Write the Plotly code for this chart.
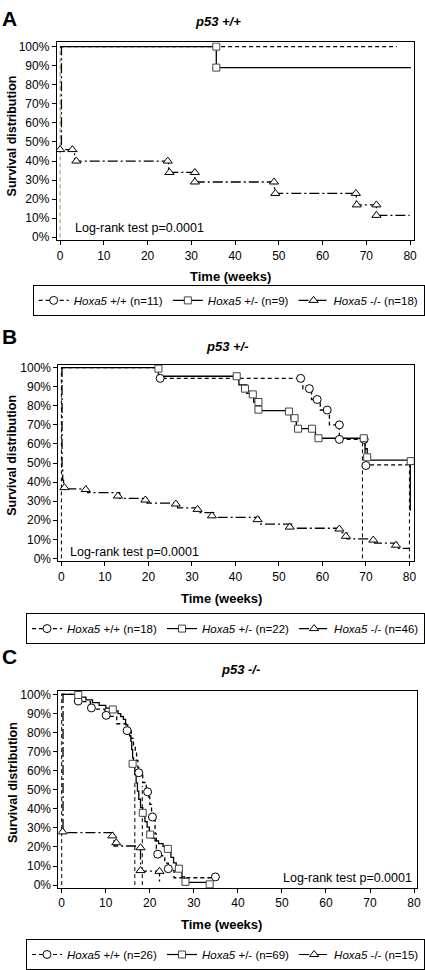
import plotly.graph_objects as go

FIG_W, FIG_H = 425, 970

# ---------------- data ----------------
X_TICKS = [0, 10, 20, 30, 40, 50, 60, 70, 80]
Y_TICKS = [0, 10, 20, 30, 40, 50, 60, 70, 80, 90, 100]
Y_TICK_LABELS = ["0%", "10%", "20%", "30%", "40%", "50%", "60%", "70%", "80%", "90%", "100%"]
GROUPS = ["+/+", "+/-", "-/-"]
PANEL_TITLES = ["p53 +/+", "p53 +/-", "p53 -/-"]
LOGRANK = "Log-rank test p=0.0001"

# Panel A  (p53 +/+)
A_N = [11, 9, 18]
A_WT_T = [0, 77.0]
A_WT_S = [100, 100]
A_WT_MK_T = []
A_WT_MK_S = []
A_HET_T = [0, 35.7, 80.2]
A_HET_S = [100, 89, 89]
A_HET_MK_T = [35.7, 35.7]
A_HET_MK_S = [100, 89]
A_KO_T = [0, 0.3, 3.3, 24.8, 30.8, 49.0, 67.7, 72.3, 79.9]
A_KO_S = [100, 46, 40, 34, 29, 23, 17, 11.5, 11.5]
A_KO_MK_T = [0, 2.8, 3.7, 24.6, 25.0, 30.8, 30.8, 48.9, 49.2, 67.6, 67.8, 72.3, 72.3]
A_KO_MK_S = [46, 46, 40, 40, 34, 34, 29, 29, 23, 23, 17, 17, 11.5]
A_MED_T = [0]
A_MED_TOP = [100]

# Panel B  (p53 +/-)
B_N = [18, 22, 46]
B_WT_T = [0, 22.6, 55.5, 57.5, 59.5, 61.6, 63.9, 69.8, 79.7]
B_WT_S = [100, 94.4, 88.9, 83.3, 77.8, 70, 62.4, 49, 49]
B_WT_MK_T = [22.7, 55.0, 57.0, 58.8, 61.1, 63.9, 63.9, 69.6, 70.0]
B_WT_MK_S = [94.4, 94.4, 89.0, 83.3, 77.8, 70.0, 62.4, 62.4, 48.7]
B_HET_T = [0, 22.3, 40.8, 42.6, 44.2, 45.3, 52.8, 54.0, 58.4, 69.8, 70.3, 80.2, 80.2]
B_HET_S = [100, 95.5, 91, 86.5, 82, 77.5, 73, 68, 63, 57.5, 51.5, 51.5, 25]
B_HET_MK_T = [22.3, 40.3, 42.2, 44.0, 45.3, 45.3, 52.3, 53.6, 54.4, 57.6, 59.1, 69.5, 70.3, 80.3]
B_HET_MK_S = [99.5, 95.5, 89, 86, 82, 78, 77, 73.5, 68, 68, 63, 63, 53, 51]
B_KO_T = [0, 0.15, 0.3, 0.5, 6.0, 13.4, 19.7, 26.7, 31.7, 35.0, 45.5, 52.9, 64.2, 65.6, 72.0, 77.2, 80.0]
B_KO_S = [100, 48, 41, 36.5, 34.5, 31.5, 29, 26.5, 24, 21.5, 18, 15.8, 13.5, 10.2, 8, 5.3, 5.3]
B_KO_MK_T = [0.7, 5.6, 13.0, 19.3, 26.3, 31.3, 34.6, 45.1, 52.5, 63.9, 65.4, 71.7, 76.9]
B_KO_MK_S = [37.1, 36.1, 32.7, 30.6, 28.5, 25.7, 22.3, 20.3, 16.4, 15.4, 11.6, 9.6, 6.9]
B_MED_T = [0, 69.2, 80.0]
B_MED_TOP = [100, 62, 50]

# Panel C  (p53 -/-)
C_N = [26, 69, 15]
C_WT_T = [0, 3.5, 6.5, 9.8, 12.5, 14.6, 15.8, 16.3, 16.7, 17.0, 17.3, 17.6, 18.4, 19.2, 19.6,
          20.0, 20.4, 20.8, 21.2, 21.5, 21.9, 23.4, 24.2, 25.5, 35.0]
C_WT_S = [100, 96.2, 92.3, 88.5, 84.6, 80.8, 76.9, 73.1, 69.2, 65.4, 61.5, 57.7, 53.8, 50.0, 46.2,
          42.3, 38.5, 34.6, 26.9, 19.2, 15.4, 11.5, 7.7, 3.85, 3.85]
C_WT_MK_T = [3.76, 6.75, 10.1, 14.85, 17.5, 19.5, 20.6, 21.8, 24.2, 34.9]
C_WT_MK_S = [96.5, 92.9, 89.0, 81.0, 58.9, 48.9, 35.7, 16.2, 8.6, 4.3]
C_HET_T = [0, 3.9, 5.5, 7.0, 8.5, 10.0, 12.0, 12.8, 13.4, 14.0, 14.5, 15.0, 15.4, 15.7, 15.9,
           16.1, 16.3, 16.6, 16.9, 17.2, 17.5, 17.9, 18.4, 18.9, 19.4, 19.9, 20.5, 21.2, 22.0,
           23.0, 24.3, 24.8, 25.4, 26.0, 26.8, 27.3, 27.9, 33.6]
C_HET_S = [100, 98.6, 97.1, 95.7, 94.2, 92.8, 91.3, 89.9, 88.4, 86.9, 84.0, 81.2, 78.3, 75.4, 71.0,
           66.7, 62.3, 58.0, 53.6, 49.3, 45.0, 40.6, 36.2, 33.3, 30.4, 27.5, 24.6, 23.2, 21.7,
           20.3, 17.4, 14.5, 11.6, 10.1, 7.2, 4.3, 1.45, 1.45]
C_HET_MK_T = [3.76, 11.6, 16.1, 18.4, 20.1, 24.1, 26.6, 28.1, 33.6]
C_HET_MK_S = [99.7, 92.1, 63.6, 37.9, 26.5, 19.0, 8.6, 1.7, 0.4]
C_KO_T = [0, 0.3, 11.9, 17.9, 22.2]
C_KO_S = [100, 27.5, 20.5, 7.3, 1.5]
C_KO_MK_T = [0.2, 11.5, 12.4, 17.9, 17.9, 22.2]
C_KO_MK_S = [27.9, 25.8, 22.2, 19.6, 7.6, 7.2]
C_MED_T = [0, 16.6, 18.3]
C_MED_TOP = [100, 55, 52]

PANEL_DATA = [
    dict(n=A_N, series=[(A_WT_T, A_WT_S, A_WT_MK_T, A_WT_MK_S),
                        (A_HET_T, A_HET_S, A_HET_MK_T, A_HET_MK_S),
                        (A_KO_T, A_KO_S, A_KO_MK_T, A_KO_MK_S)],
         med=(A_MED_T, A_MED_TOP)),
    dict(n=B_N, series=[(B_WT_T, B_WT_S, B_WT_MK_T, B_WT_MK_S),
                        (B_HET_T, B_HET_S, B_HET_MK_T, B_HET_MK_S),
                        (B_KO_T, B_KO_S, B_KO_MK_T, B_KO_MK_S)],
         med=(B_MED_T, B_MED_TOP)),
    dict(n=C_N, series=[(C_WT_T, C_WT_S, C_WT_MK_T, C_WT_MK_S),
                        (C_HET_T, C_HET_S, C_HET_MK_T, C_HET_MK_S),
                        (C_KO_T, C_KO_S, C_KO_MK_T, C_KO_MK_S)],
         med=(C_MED_T, C_MED_TOP)),
]

# ---------------- layout / styles (pixels) ----------------
PANEL_LAYOUT = [
    dict(letter="A", box=(57.3, 417.7, 39.0, 239.7), xr=[-0.77, 80.84], yr=[-1.55, 102.2],
         letter_xy=(9.5, 14.5), title_xy=(220, 18), xtitle_xy=(232.5, 276), ytitle_xy=(12.5, 134),
         logrank_xy=(74, 227), logrank_anchor="left", legend_xy=(33, 285), med_color="#8c8c8c"),
    dict(letter="B", box=(59.0, 418.0, 366.0, 565.5), xr=[-0.68, 81.07], yr=[-1.55, 101.55],
         letter_xy=(9.5, 337.5), title_xy=(230, 348), xtitle_xy=(224, 603), ytitle_xy=(12.5, 458),
         logrank_xy=(69, 556), logrank_anchor="left", legend_xy=(32, 618), med_color="#000000"),
    dict(letter="C", box=(59.0, 421.0, 697.0, 897.0), xr=[-0.74, 80.68], yr=[-1.55, 101.8],
         letter_xy=(9.5, 662.5), title_xy=(243, 675), xtitle_xy=(224, 934), ytitle_xy=(12.5, 790),
         logrank_xy=(418, 886.7), logrank_anchor="right", legend_xy=(32, 949), med_color="#000000"),
]
STYLES = [
    dict(dash="4px,3px", symbol="circle", size=8, mline="#000000"),
    dict(dash="solid", symbol="square", size=7, mline="#444444"),
    dict(dash="10px,3px,2px,3px", symbol="triangle-up", size=8, mline="#000000"),
]
FONT = "Liberation Sans, Arial, sans-serif"


def px(x):
    return x / FIG_W


def py(y):
    return 1 - y / FIG_H


fig = go.Figure()
annotations = []
layout_axes = {}

for i, (pdata, play) in enumerate(zip(PANEL_DATA, PANEL_LAYOUT)):
    sfx = "" if i == 0 else str(i + 1)
    xa, ya = "x" + sfx, "y" + sfx
    leg = "legend" + sfx

    # median reference lines
    mt, mtop = pdata["med"]
    for t, top in zip(mt, mtop):
        fig.add_trace(go.Scatter(x=[t, t], y=[0, top], mode="lines", xaxis=xa, yaxis=ya,
                                 line=dict(color=play["med_color"], width=1, dash="4px,3px"),
                                 showlegend=False, hoverinfo="skip"))

    for g, (series, st) in enumerate(zip(pdata["series"], STYLES)):
        t, s, mkt, mks = series
        fig.add_trace(go.Scatter(x=t, y=s, mode="lines", line_shape="hv", xaxis=xa, yaxis=ya,
                                 line=dict(color="black", width=1.3, dash=st["dash"]),
                                 showlegend=False))
    for g, (series, st) in enumerate(zip(pdata["series"], STYLES)):
        t, s, mkt, mks = series
        if mkt:
            fig.add_trace(go.Scatter(x=mkt, y=mks, mode="markers", xaxis=xa, yaxis=ya,
                                     marker=dict(symbol=st["symbol"], size=st["size"], color="white",
                                                 line=dict(color=st["mline"], width=1)),
                                     showlegend=False))
    # legend entries
    for g, st in enumerate(STYLES):
        fig.add_trace(go.Scatter(x=[None], y=[None], mode="lines+markers", xaxis=xa, yaxis=ya,
                                 name=f"<i>Hoxa5</i> {GROUPS[g]} (n={pdata['n'][g]})",
                                 line=dict(color="black", width=1.2, dash=st["dash"]),
                                 marker=dict(symbol=st["symbol"], size=st["size"], color="white",
                                             line=dict(color=st["mline"], width=1)),
                                 legend=leg, showlegend=True))

    l, r, t_, b = play["box"]
    axis_common = dict(showline=True, linecolor="black", linewidth=1, mirror=True,
                       ticks="outside", ticklen=4, tickwidth=1, tickcolor="black",
                       showgrid=False, zeroline=False,
                       tickfont=dict(family=FONT, size=12, color="black"))
    layout_axes["xaxis" + sfx] = dict(domain=[px(l), px(r)], range=play["xr"], tickvals=X_TICKS,
                                      anchor=ya, **axis_common)
    layout_axes["yaxis" + sfx] = dict(domain=[py(b), py(t_)], range=play["yr"], tickvals=Y_TICKS,
                                      ticktext=Y_TICK_LABELS, anchor=xa, **axis_common)
    lx, ly = play["legend_xy"]
    layout_axes[leg] = dict(x=px(lx), y=py(ly), xanchor="left", yanchor="top", orientation="h",
                            bordercolor="black", borderwidth=1, bgcolor="white", itemwidth=30,
                            font=dict(family=FONT, size=11.5, color="black"))

    def ann(text, xy, size, anchor="center", angle=0):
        annotations.append(dict(text=text, x=px(xy[0]), y=py(xy[1]), xref="paper", yref="paper",
                                xanchor=anchor, yanchor="middle", showarrow=False, textangle=angle,
                                font=dict(family=FONT, size=size, color="black")))

    ann(f"<b>{play['letter']}</b>", play["letter_xy"], 21)
    ann(f"<b><i>{PANEL_TITLES[i]}</i></b>", play["title_xy"], 13)
    ann("<b>Time (weeks)</b>", play["xtitle_xy"], 13)
    ann("<b>Survival distribution</b>", play["ytitle_xy"], 12.5, angle=-90)
    ann(LOGRANK, play["logrank_xy"], 12.5, anchor=play["logrank_anchor"])

fig.update_layout(width=FIG_W, height=FIG_H, margin=dict(l=0, r=0, t=0, b=0),
                  paper_bgcolor="white", plot_bgcolor="white", annotations=annotations,
                  font=dict(family=FONT, color="black"), **layout_axes)
fig.write_html("out.html", config={"displayModeBar": False},
               post_script="document.body.style.margin='0';document.body.style.overflow='hidden';")
